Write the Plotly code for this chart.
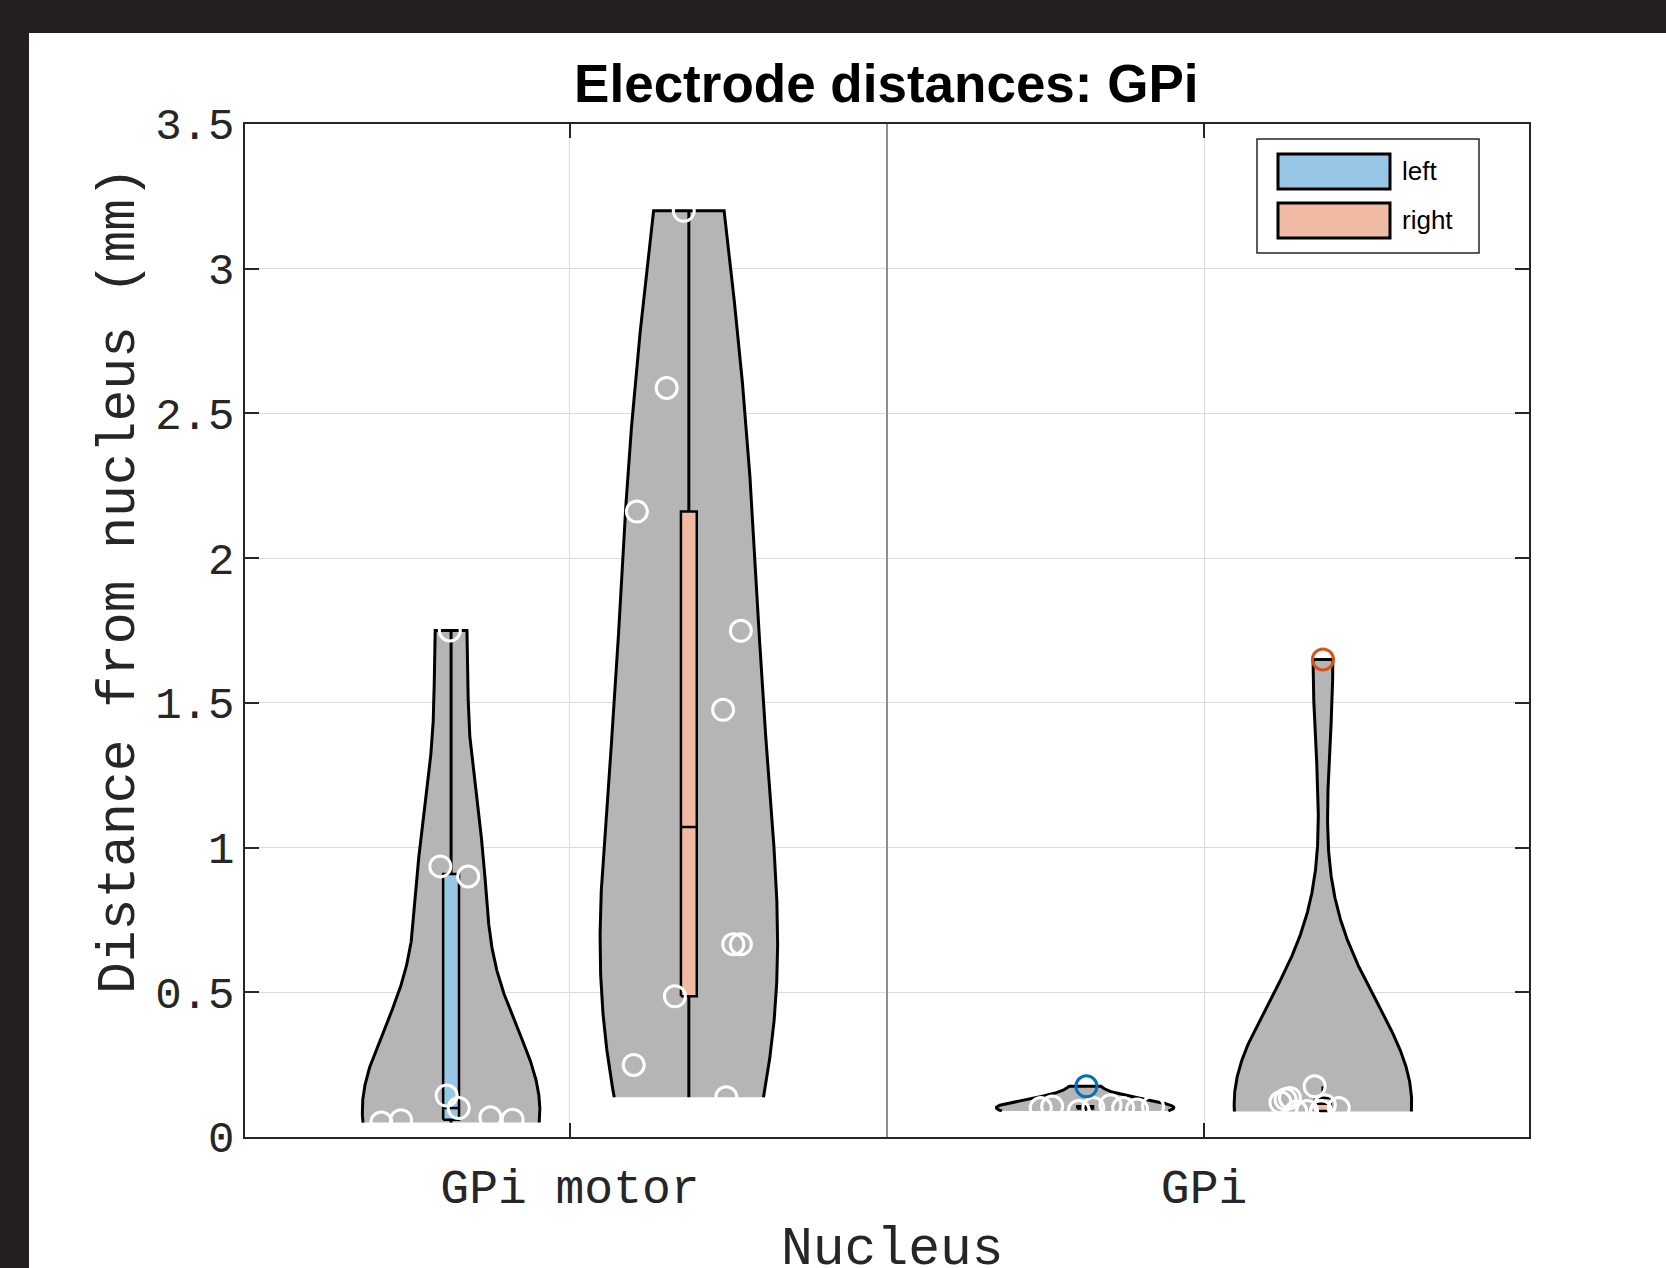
import numpy as np
import plotly.graph_objects as go

# ---------------- data ----------------
categories = ["GPi motor", "GPi"]
sides = ["left", "right"]

gpi_motor_left = [1.75, 0.935, 0.90, 0.143, 0.10, 0.05, 0.058, 0.068, 0.06]
gpi_motor_left_jitter = [-0.002, -0.017, 0.027, -0.007, 0.012, -0.11, -0.079, 0.062, 0.097]

gpi_motor_right = [3.2, 2.588, 2.161, 1.749, 1.476, 0.666, 0.666, 0.486, 0.249, 0.137]
gpi_motor_right_jitter = [-0.008, -0.035, -0.082, 0.082, 0.054, 0.070, 0.082, -0.022, -0.087, 0.059]

gpi_left = [0.10, 0.105, 0.09, 0.10, 0.11, 0.10, 0.095, 0.105, 0.175]
gpi_left_jitter = [-0.070, -0.052, -0.010, 0.013, 0.040, 0.060, 0.082, 0.107, 0.002]

gpi_right = [0.12, 0.13, 0.135, 0.175, 0.09, 0.11, 0.10, 0.09, 0.088, 1.65]
gpi_right_jitter = [-0.067, -0.059, -0.052, -0.013, -0.025, 0.003, 0.025, -0.003, -0.042, 0.0]

y_ticks = [0, 0.5, 1, 1.5, 2, 2.5, 3, 3.5]
y_tick_labels = ["0", "0.5", "1", "1.5", "2", "2.5", "3", "3.5"]

# ---------------- style ----------------
groups = [
    (0, 0, gpi_motor_left, gpi_motor_left_jitter),
    (0, 1, gpi_motor_right, gpi_motor_right_jitter),
    (1, 0, gpi_left, gpi_left_jitter),
    (1, 1, gpi_right, gpi_right_jitter),
]
bandwidths = [0.33, 0.70, 0.03, 0.35]
side_fill = ["#98C6E6", "#F1BBA3"]
side_edge = ["#0072BD", "#D95319"]
violin_fill = "#b5b5b5"
offset = 0.1875
half_width = 0.14
box_half = 0.0125
axis_col = "#262626"
mono = "Liberation Mono, DejaVu Sans Mono, monospace"
sans = "Liberation Sans, Arial, Helvetica, sans-serif"
lw = 3

W, H = 1666, 1268
ML, MR, MT, MB = 245, 137, 124, 131
PW, PH = W - ML - MR, H - MT - MB


def px2paper(px, py):
    return (px - ML) / PW, (H - MB - py) / PH


def kde(vals, bw, n=400):
    v = np.asarray(vals, float)
    y = np.linspace(v.min(), v.max(), n)
    d = np.exp(-0.5 * ((y[:, None] - v[None, :]) / bw) ** 2).sum(axis=1)
    return y, d / d.max()


fig = go.Figure()

for gi, (ci, si, vals, jit) in enumerate(groups):
    center = ci + 1 + (-1 if si == 0 else 1) * offset
    v = np.asarray(vals, float)
    yk, dk = kde(v, bandwidths[gi])
    xs = np.concatenate([center + dk * half_width, (center - dk * half_width)[::-1]])
    ys = np.concatenate([yk, yk[::-1]])
    fig.add_trace(go.Scatter(x=xs, y=ys, mode="lines", fill="toself",
                             fillcolor=violin_fill,
                             line=dict(color="black", width=lw),
                             hoverinfo="skip", showlegend=False))
    q1, med, q3 = np.quantile(v, [0.25, 0.5, 0.75], method="hazen")
    iqr = q3 - q1
    is_out = (v > q3 + 1.5 * iqr) | (v < q1 - 1.5 * iqr)
    inl = v[~is_out]
    # whisker (to the most extreme non-outlier values)
    fig.add_trace(go.Scatter(x=[center, center], y=[inl.min(), inl.max()], mode="lines",
                             line=dict(color="black", width=lw),
                             hoverinfo="skip", showlegend=False))
    fig.add_trace(go.Scatter(x=[center - box_half, center + box_half, center + box_half,
                                center - box_half, center - box_half],
                             y=[q1, q1, q3, q3, q1], mode="lines", fill="toself",
                             fillcolor=side_fill[si],
                             line=dict(color="black", width=2.5),
                             hoverinfo="skip", showlegend=False))
    fig.add_trace(go.Scatter(x=[center - box_half, center + box_half], y=[med, med],
                             mode="lines", line=dict(color="black", width=2.5),
                             hoverinfo="skip", showlegend=False))
    idx = [i for i in range(len(v)) if not is_out[i]]
    fig.add_trace(go.Scatter(x=[center + jit[i] for i in idx], y=[v[i] for i in idx],
                             mode="markers",
                             marker=dict(symbol="circle-open", size=21, color="white",
                                         line=dict(width=3, color="white")),
                             showlegend=False, hoverinfo="y"))
    oidx = [i for i in range(len(v)) if is_out[i]]
    if oidx:
        fig.add_trace(go.Scatter(x=[center + jit[i] for i in oidx], y=[v[i] for i in oidx],
                                 mode="markers",
                                 marker=dict(symbol="circle-open", size=21,
                                             color=side_edge[si],
                                             line=dict(width=3, color=side_edge[si])),
                                 showlegend=False, hoverinfo="y"))

shapes = []
# dark frame around the figure (top band and left strip)
x0p, y1p = px2paper(-2, -2)
x1p, y0p = px2paper(W + 2, 33)
shapes.append(dict(type="rect", xref="paper", yref="paper", x0=x0p, x1=x1p, y0=y0p, y1=y1p,
                   fillcolor="#231f20", line=dict(width=0), layer="below"))
x1p, _ = px2paper(29, 0)
_, y0p = px2paper(0, H + 2)
shapes.append(dict(type="rect", xref="paper", yref="paper", x0=x0p, x1=x1p, y0=y0p, y1=y1p,
                   fillcolor="#231f20", line=dict(width=0), layer="below"))
# separator between the two nuclei
shapes.append(dict(type="line", xref="x", yref="paper", x0=1.5, x1=1.5, y0=0, y1=1,
                   line=dict(color="#8f8f8f", width=2), layer="above"))

annotations = []
# axis titles placed as in the reference
ytx, yty = px2paper(120, 581)
annotations.append(dict(xref="paper", yref="paper", x=ytx, y=yty,
                        text="Distance from nucleus (mm)", textangle=-90,
                        showarrow=False, xanchor="center", yanchor="middle",
                        font=dict(family=mono, size=53, color=axis_col)))
xtx, xty = px2paper(893, 1250)
annotations.append(dict(xref="paper", yref="paper", x=xtx, y=xty,
                        text="Nucleus", showarrow=False, xanchor="center",
                        yanchor="middle",
                        font=dict(family=mono, size=53, color=axis_col)))

# legend (drawn by hand to match the wide patch swatches)
lx0, ly0 = px2paper(1257, 253)
lx1, ly1 = px2paper(1479, 139)
shapes.append(dict(type="rect", xref="paper", yref="paper", x0=lx0, x1=lx1, y0=ly0, y1=ly1,
                   fillcolor="white", line=dict(color=axis_col, width=1.5), layer="above"))
for k, name in enumerate(sides):
    top = 154 + k * 49
    sx0, sy1 = px2paper(1278, top)
    sx1, sy0 = px2paper(1390, top + 35)
    shapes.append(dict(type="rect", xref="paper", yref="paper", x0=sx0, x1=sx1, y0=sy0, y1=sy1,
                       fillcolor=side_fill[k], line=dict(color="black", width=3),
                       layer="above"))
    tx, ty = px2paper(1400, top + 17)
    annotations.append(dict(xref="paper", yref="paper", x=tx, y=ty, text=name,
                            showarrow=False, xanchor="left", yanchor="middle",
                            font=dict(family=sans, size=26, color="black")))

fig.update_layout(
    width=W, height=H, autosize=False,
    margin=dict(l=ML, r=MR, t=MT, b=MB, autoexpand=False),
    paper_bgcolor="white", plot_bgcolor="white",
    title=dict(text="<b>Electrode distances: GPi</b>", x=0.532, xanchor="center",
               y=1 - 83 / H, yanchor="middle", yref="container",
               font=dict(family=sans, size=53, color="black")),
    shapes=shapes, annotations=annotations,
    showlegend=False,
    xaxis=dict(range=[0.4875, 2.5125], tickmode="array", tickvals=[1, 2],
               ticktext=categories, ticks="inside", ticklen=14, tickwidth=1.5,
               tickcolor=axis_col, showline=True, linecolor=axis_col, linewidth=1.5,
               mirror="ticks", showgrid=True, gridcolor="#dcdcdc", gridwidth=1.2,
               zeroline=False, ticklabelstandoff=7, automargin=False,
               tickfont=dict(family=mono, size=48, color=axis_col)),
    yaxis=dict(range=[0, 3.5], tickmode="array", tickvals=y_ticks, ticktext=y_tick_labels,
               ticks="inside", ticklen=14, tickwidth=1.5, tickcolor=axis_col,
               showline=True, linecolor=axis_col, linewidth=1.5, mirror="ticks",
               showgrid=True, gridcolor="#dcdcdc", gridwidth=1.2, zeroline=False,
               automargin=False,
               tickfont=dict(family=mono, size=44, color=axis_col)),
)

fig.write_html("out.html", config={"displayModeBar": False},
               post_script="document.body.style.margin='0px';")
